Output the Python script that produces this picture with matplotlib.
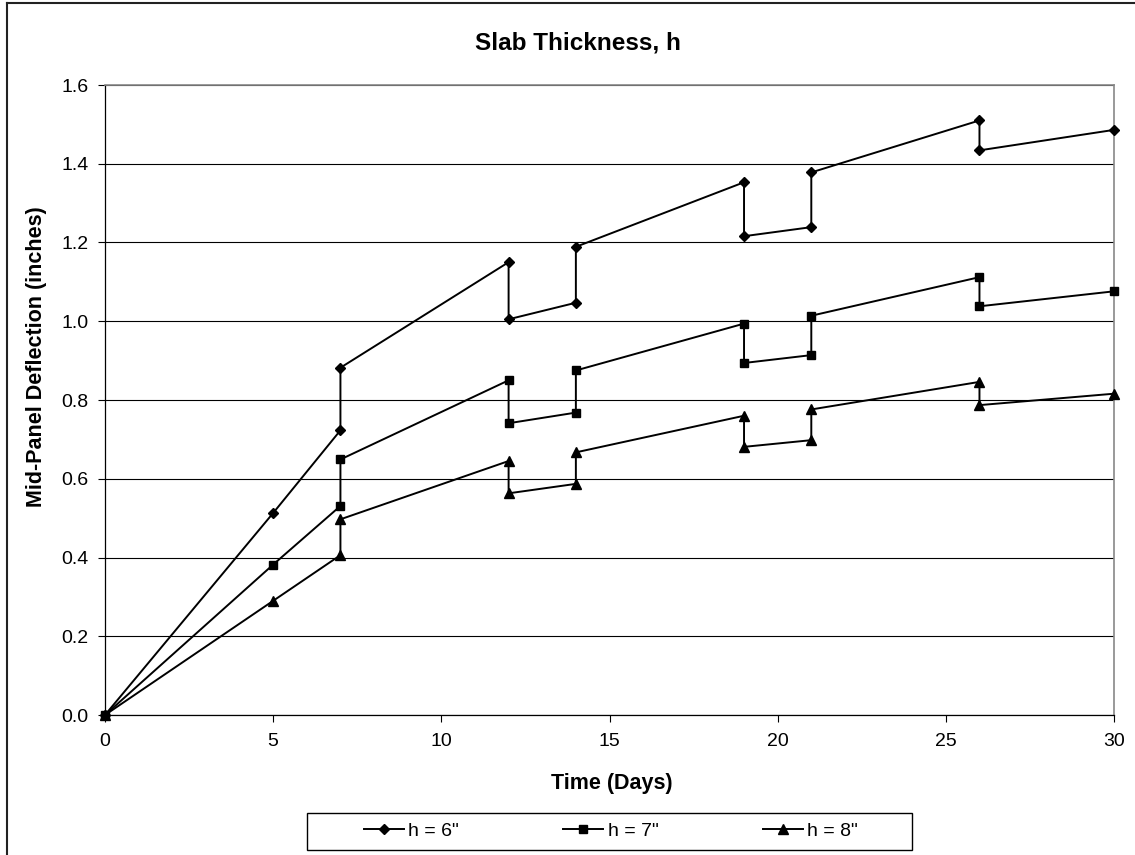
import matplotlib
import matplotlib.pyplot as plt
from matplotlib.lines import Line2D
from matplotlib.patches import Rectangle

matplotlib.use('Agg')
plt.rcParams['font.family'] = ['Liberation Sans', 'DejaVu Sans']

# days (repeated day = before/after reading on that day)
days = [0, 5, 7, 7, 12, 12, 14, 14, 19, 19, 21, 21, 26, 26, 30]
h6 = [0.0, 0.513, 0.723, 0.882, 1.150, 1.005, 1.047, 1.189,
      1.353, 1.216, 1.239, 1.378, 1.510, 1.434, 1.486]
h7 = [0.0, 0.382, 0.531, 0.649, 0.850, 0.741, 0.768, 0.875,
      0.994, 0.894, 0.914, 1.014, 1.112, 1.038, 1.076]
h8 = [0.0, 0.290, 0.406, 0.497, 0.645, 0.563, 0.587, 0.667,
      0.760, 0.681, 0.698, 0.776, 0.846, 0.787, 0.816]
labels = ['h = 6"', 'h = 7"', 'h = 8"']

W, H = 1135, 855
fig = plt.figure(figsize=(W / 100, H / 100), dpi=100)
ax = fig.add_axes([105 / W, 1 - 715 / H, (1114 - 105) / W, (715 - 85) / H])

ax.plot(days, h6, color='black', lw=1.4, marker='D', ms=5.3, label=labels[0], zorder=3, clip_on=False)
ax.plot(days, h7, color='black', lw=1.4, marker='s', ms=6.2, label=labels[1], zorder=3, clip_on=False)
ax.plot(days, h8, color='black', lw=1.4, marker='^', ms=7.5, label=labels[2], zorder=3, clip_on=False)

ax.set_xlim(0, 30)
ax.set_ylim(0, 1.6)
ax.set_xticks(range(0, 31, 5))
ax.set_yticks([i * 0.2 for i in range(9)])
ax.set_yticklabels([f'{i * 0.2:.1f}' for i in range(9)])
ax.yaxis.grid(True, color='black', lw=0.8)
ax.set_axisbelow(True)
ax.tick_params(direction='out', length=5, width=0.8, labelsize=14)
ax.tick_params(axis='x', pad=8)
ax.tick_params(axis='y', pad=7)

for side in ['top', 'right']:
    ax.spines[side].set_color('#888888')
    ax.spines[side].set_linewidth(1.2)
for side in ['left', 'bottom']:
    ax.spines[side].set_color('black')
    ax.spines[side].set_linewidth(0.9)

fig.text(578 / W, 1 - 43 / H, 'Slab Thickness, h', ha='center', va='center',
         fontsize=17.5, fontweight='bold')
fig.text(612 / W, 1 - 783 / H, 'Time (Days)', ha='center', va='center',
         fontsize=15.5, fontweight='bold')
fig.text(37 / W, 1 - 357 / H, 'Mid-Panel Deflection (inches)', ha='center', va='center',
         rotation=90, fontsize=15.5, fontweight='bold')

# legend frame and entries
fig.patches.append(Rectangle((307 / W, 1 - 850 / H), (912 - 307) / W, 37 / H,
                             transform=fig.transFigure, fill=False,
                             edgecolor='black', lw=1.0))
fig.legend(loc='center', bbox_to_anchor=(611 / W, 1 - 831 / H), ncol=3,
           frameon=False, fontsize=14, handlelength=2.05, handletextpad=0.25,
           columnspacing=5.35, borderpad=0)

# outer chart border
fig.add_artist(Line2D([6.5 / W, 6.5 / W], [0, 1 - 3.5 / H], transform=fig.transFigure,
                      color='#222222', lw=1.5))
fig.add_artist(Line2D([6.5 / W, 1], [1 - 3.5 / H, 1 - 3.5 / H], transform=fig.transFigure,
                      color='#222222', lw=1.5))

fig.savefig('out.png', dpi=100)
